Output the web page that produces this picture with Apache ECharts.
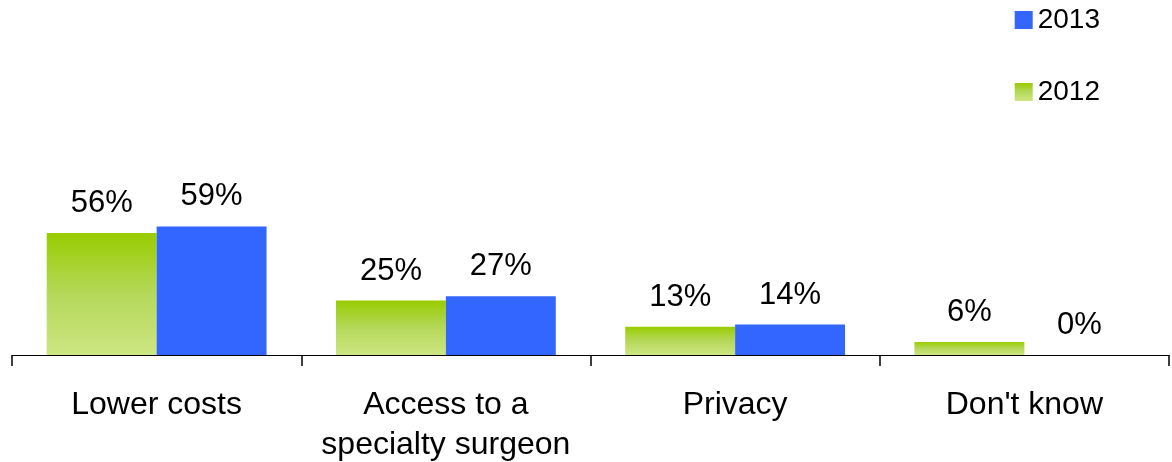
<!DOCTYPE html>
<html>
<head>
<meta charset="utf-8">
<script src="https://cdn.jsdelivr.net/npm/echarts@6/dist/echarts.min.js"></script>
<style>
html,body{margin:0;padding:0;background:#fff;}
#c{width:1172px;height:462px;}
</style>
</head>
<body>
<div id="c"></div>
<script>
const categories = ['Lower costs', 'Access to a\nspecialty surgeon', 'Privacy', "Don't know"];
const values2012 = [56, 25, 13, 6];
const values2013 = [59, 27, 14, 0];

const chart = echarts.init(document.getElementById('c'));
const green = new echarts.graphic.LinearGradient(0, 0, 0, 1, [
  {offset: 0, color: '#99CC00'},
  {offset: 0.5, color: '#B5D85A'},
  {offset: 1, color: '#CDE682'}
]);
const labelCfg = {
  show: true, position: 'top', distance: 14,
  formatter: p => p.value + '%',
  color: '#000', fontSize: 31, fontFamily: 'Liberation Sans'
};
chart.setOption({
  animation: false,
  textStyle: {fontFamily: 'Liberation Sans'},
  legend: {
    data: ['2013', '2012'],
    orient: 'vertical',
    right: 67, top: 1,
    icon: 'rect',
    itemWidth: 18, itemHeight: 18, itemGap: 44, itemTextGap: 7,
    textStyle: {fontSize: 28, color: '#000', fontFamily: 'Liberation Sans'}
  },
  grid: {left: 12, right: 3, top: 137, bottom: 107, containLabel: false, outerBoundsMode: 'none'},
  xAxis: {
    type: 'category',
    data: categories,
    axisLine: {show: true, lineStyle: {color: '#000', width: 1}},
    axisTick: {show: true, inside: false, length: 11, lineStyle: {color: '#000', width: 1.5}},
    axisLabel: {interval: 0, margin: 30, fontSize: 32, lineHeight: 40, color: '#000', fontFamily: 'Liberation Sans'}
  },
  yAxis: {type: 'value', min: 0, max: 100, show: false, splitLine: {show: false}},
  series: [
    {name: '2012', type: 'bar', data: values2012, barGap: '0%', barCategoryGap: '24%',
     itemStyle: {color: green}, label: labelCfg},
    {name: '2013', type: 'bar', data: values2013, barGap: '0%', barCategoryGap: '24%',
     itemStyle: {color: '#3366FF'}, label: labelCfg}
  ]
});
</script>
</body>
</html>
